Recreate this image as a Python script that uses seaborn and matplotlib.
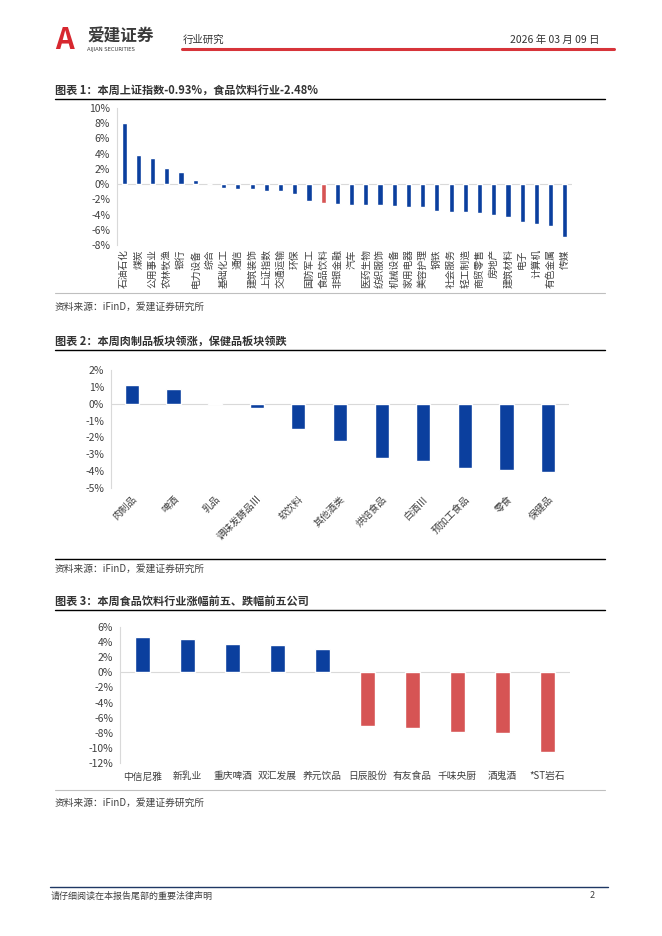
import matplotlib
matplotlib.use('Agg')
import matplotlib.pyplot as plt
import seaborn as sns
from matplotlib.lines import Line2D
from matplotlib.ticker import FuncFormatter

# ---- data ----
ind_names = ['石油石化', '煤炭', '公用事业', '农林牧渔', '银行', '电力设备', '综合', '基础化工',
             '通信', '建筑装饰', '上证指数', '交通运输', '环保', '国防军工', '食品饮料', '非银金融',
             '汽车', '医药生物', '纺织服饰', '机械设备', '家用电器', '美容护理', '钢铁', '社会服务',
             '轻工制造', '商贸零售', '房地产', '建筑材料', '电子', '计算机', '有色金属', '传媒']
ind_values = [8.0, 3.8, 3.4, 2.1, 1.6, 0.5, 0.0, -0.57, -0.65, -0.7, -0.93, -0.95, -1.35, -2.2,
              -2.48, -2.55, -2.72, -2.78, -2.8, -2.82, -3.0, -3.05, -3.55, -3.6, -3.65, -3.85,
              -4.05, -4.3, -5.0, -5.25, -5.45, -7.0]

sub_names = ['肉制品', '啤酒', '乳品', '调味发酵品Ⅲ', '软饮料', '其他酒类', '烘焙食品', '白酒Ⅲ',
             '预加工食品', '零食', '保健品']
sub_values = [1.09, 0.9, 0.03, -0.28, -1.5, -2.2, -3.2, -3.38, -3.8, -3.95, -4.06]

co_names = ['中信尼雅', '新乳业', '重庆啤酒', '双汇发展', '养元饮品', '日辰股份', '有友食品',
            '千味央厨', '酒鬼酒', '*ST岩石']
co_values = [4.67, 4.44, 3.73, 3.64, 3.07, -7.16, -7.33, -7.87, -8.09, -10.6]

BLUE = '#0B3F9E'
RED = '#D65454'
GRAY_TXT = '#404040'
W, H = 662, 936

sns.set_style('white')
plt.rcParams['font.family'] = ['Noto Sans CJK SC', 'DejaVu Sans']
plt.rcParams['axes.unicode_minus'] = False

fig = plt.figure(figsize=(W / 100, H / 100), dpi=100)


def px_axes(l, t, r, b):
    return fig.add_axes([l / W, 1 - b / H, (r - l) / W, (b - t) / H])


def hline(x0, x1, y, color, lw):
    fig.add_artist(Line2D([x0 / W, x1 / W], [1 - y / H, 1 - y / H], color=color, lw=lw))


def txt(x, y, s, **kw):
    fig.text(x / W, 1 - y / H, s, va='center', **kw)


pct = FuncFormatter(lambda v, p: f'{v:.0f}%')


def style_axes(ax, ylim, step):
    ax.set_ylim(*ylim)
    ax.set_yticks(range(ylim[0], ylim[1] + 1, step))
    ax.yaxis.set_major_formatter(pct)
    for s in ['top', 'right', 'bottom']:
        ax.spines[s].set_visible(False)
    ax.spines['left'].set_color('#D9D9D9')
    ax.spines['left'].set_linewidth(0.8)
    ax.axhline(0, color='#D9D9D9', lw=0.8, zorder=0)
    ax.tick_params(axis='y', length=3, color='#D9D9D9', labelsize=7.5, labelcolor=GRAY_TXT, pad=2)
    ax.tick_params(axis='x', length=0, labelcolor=GRAY_TXT)
    ax.set_xlabel('')
    ax.set_ylabel('')


# ---- header ----
txt(55, 40, 'A', fontsize=21, fontweight='bold', color='#D7272F', style='italic')
txt(87, 37, '爱建证券', fontsize=12, fontweight='bold', color='#3A3A3A')
txt(87, 50, 'AIJIAN SECURITIES', fontsize=3.8, color='#3A3A3A', family='DejaVu Sans')
txt(183, 40, '行业研究', fontsize=7.5, color='#333333')
txt(599, 40, '2026 年 03 月 09 日', fontsize=7.5, color='#333333', ha='right')
hline(182, 614, 49, '#D7343A', 2.2)

# ---- chart 1 ----
txt(55, 90, '图表 1：本周上证指数-0.93%，食品饮料行业-2.48%', fontsize=8, fontweight='bold', color='#333333')
hline(55, 605, 99, 'black', 1.0)
ax1 = px_axes(117, 108, 572, 245)
colors1 = [RED if n == '食品饮料' else BLUE for n in ind_names]
sns.barplot(x=ind_names, y=ind_values, hue=ind_names, palette=colors1, legend=False,
            width=0.36, saturation=1, ax=ax1)
style_axes(ax1, (-8, 10), 2)
ax1.tick_params(axis='x', labelsize=7, rotation=90, pad=3)
hline(55, 605, 293, '#BFBFBF', 0.8)
txt(55, 307, '资料来源：iFinD，爱建证券研究所', fontsize=7, color=GRAY_TXT)

# ---- chart 2 ----
txt(55, 341, '图表 2：本周肉制品板块领涨，保健品板块领跌', fontsize=8, fontweight='bold', color='#333333')
hline(55, 605, 350, 'black', 1.0)
ax2 = px_axes(111, 370, 569, 488)
sns.barplot(x=sub_names, y=sub_values, hue=sub_names, palette=[BLUE] * len(sub_names), legend=False,
            width=0.34, saturation=1, ax=ax2)
style_axes(ax2, (-5, 2), 1)
ax2.tick_params(axis='x', labelsize=7, pad=4)
for lab in ax2.get_xticklabels():
    lab.set_rotation(45)
    lab.set_ha('right')
    lab.set_rotation_mode('anchor')
hline(55, 605, 559, 'black', 1.0)
txt(55, 569, '资料来源：iFinD，爱建证券研究所', fontsize=7, color=GRAY_TXT)

# ---- chart 3 ----
txt(55, 601, '图表 3：本周食品饮料行业涨幅前五、跌幅前五公司', fontsize=8, fontweight='bold', color='#333333')
hline(55, 605, 610, 'black', 1.0)
ax3 = px_axes(120, 627, 570, 763)
colors3 = [BLUE if v > 0 else RED for v in co_values]
sns.barplot(x=co_names, y=co_values, hue=co_names, palette=colors3, legend=False,
            width=0.33, saturation=1, ax=ax3)
style_axes(ax3, (-12, 6), 2)
ax3.tick_params(axis='x', labelsize=7, pad=6)
hline(55, 605, 790, '#BFBFBF', 0.8)
txt(55, 803, '资料来源：iFinD，爱建证券研究所', fontsize=7, color=GRAY_TXT)

# ---- footer ----
hline(50, 608, 887, '#1F3864', 1.0)
txt(51, 896, '请仔细阅读在本报告尾部的重要法律声明', fontsize=6.5, color=GRAY_TXT)
txt(595, 896, '2', fontsize=6.5, color=GRAY_TXT, ha='right')

fig.savefig('out.png', dpi=100)
